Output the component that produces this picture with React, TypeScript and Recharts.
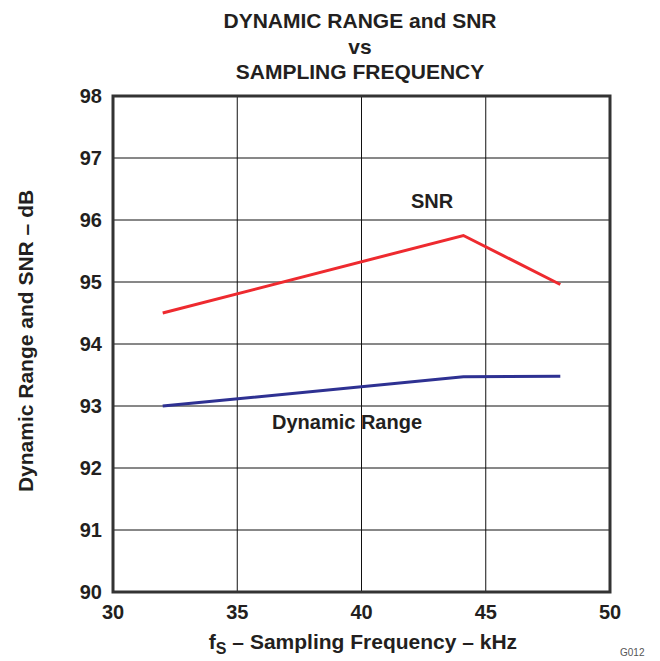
import { LineChart, Line, XAxis, YAxis, CartesianGrid, ReferenceArea, Label } from "recharts";

const xTicks = [30, 35, 40, 45, 50];
const yTicks = [90, 91, 92, 93, 94, 95, 96, 97, 98];

const snrData = [
  { fs: 32, value: 94.5 },
  { fs: 44.1, value: 95.75 },
  { fs: 48, value: 94.96 },
];

const dynamicRangeData = [
  { fs: 32, value: 93.0 },
  { fs: 44.1, value: 93.47 },
  { fs: 48, value: 93.48 },
];

const titleLines = ["DYNAMIC RANGE and SNR", "vs", "SAMPLING FREQUENCY"];

const font = "'Liberation Sans', Arial, sans-serif";
const ink = "#231f20";
const tick = { fill: ink, fontSize: 20, fontWeight: 700, fontFamily: font };

export default function App() {
  return (
    <div style={{ position: "absolute", left: 0, top: 0, width: 660, height: 661, background: "#fff", fontFamily: font }}>
      <div
        style={{
          position: "absolute",
          left: 110,
          width: 500,
          top: 8,
          textAlign: "center",
          fontWeight: 700,
          fontSize: 21,
          lineHeight: "25.5px",
          color: ink,
        }}
      >
        {titleLines.map((t) => (
          <div key={t}>{t}</div>
        ))}
      </div>
      <LineChart width={660} height={661} data={snrData} margin={{ top: 96, right: 50, bottom: 0, left: 0 }}>
        <CartesianGrid stroke="#111" strokeWidth={1} ticks={xTicks} />
        <XAxis
          dataKey="fs"
          type="number"
          domain={[30, 50]}
          ticks={xTicks}
          tick={tick}
          tickLine={false}
          axisLine={false}
          tickSize={0}
          tickMargin={13}
          height={69}
          allowDataOverflow
        >
          <Label
            content={() => (
              <text x={363} y={649} textAnchor="middle" fontFamily={font} fontWeight={700} fontSize={21} fill={ink}>
                f<tspan fontSize={16} dy={5}>S</tspan>
                <tspan dy={-5}> – Sampling Frequency – kHz</tspan>
              </text>
            )}
          />
        </XAxis>
        <YAxis
          type="number"
          domain={[90, 98]}
          ticks={yTicks}
          tick={tick}
          tickLine={false}
          axisLine={false}
          tickSize={0}
          tickMargin={11}
          width={113}
          allowDataOverflow
        >
          <Label
            content={() => (
              <text
                x={33}
                y={341}
                transform="rotate(-90 33 341)"
                textAnchor="middle"
                fontFamily={font}
                fontWeight={700}
                fontSize={21}
                fill={ink}
              >
                Dynamic Range and SNR – dB
              </text>
            )}
          />
        </YAxis>
        <ReferenceArea x1={30} x2={50} y1={90} y2={98} fill="none" stroke="#333" strokeWidth={3} ifOverflow="visible" />
        <Line
          data={snrData}
          dataKey="value"
          type="linear"
          stroke="#ee2a2f"
          strokeWidth={3}
          dot={false}
          isAnimationActive={false}
        />
        <Line
          data={dynamicRangeData}
          dataKey="value"
          type="linear"
          stroke="#2e3192"
          strokeWidth={3}
          dot={false}
          isAnimationActive={false}
        />
      </LineChart>
      <div style={{ position: "absolute", left: 411, top: 190, fontWeight: 700, fontSize: 20, color: ink }}>SNR</div>
      <div style={{ position: "absolute", left: 272, top: 411, fontWeight: 700, fontSize: 20, color: ink }}>
        Dynamic Range
      </div>
      <div style={{ position: "absolute", left: 620, top: 647, fontSize: 10, color: "#555" }}>G012</div>
    </div>
  );
}
